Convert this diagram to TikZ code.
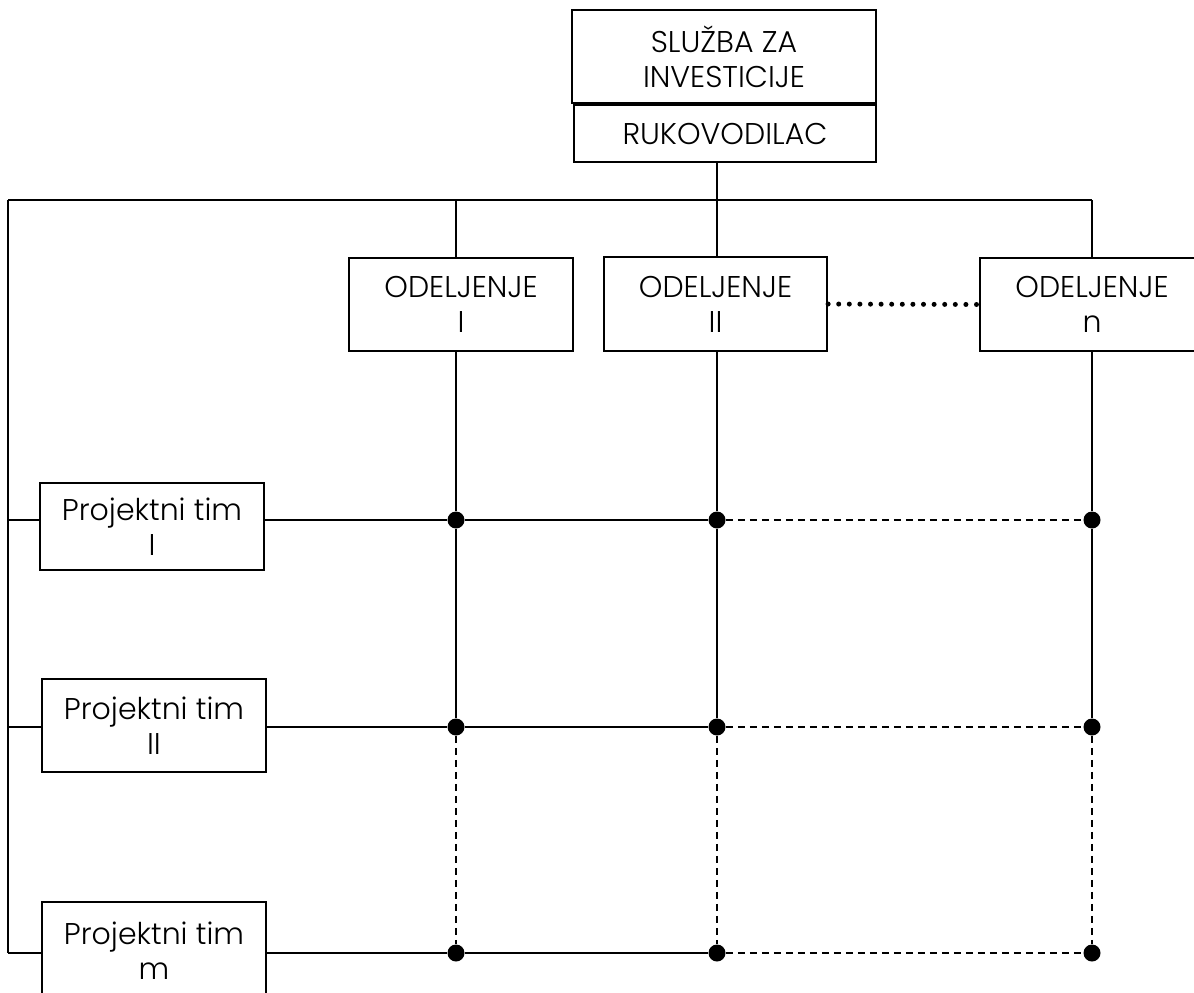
\documentclass[tikz,border=0pt]{standalone}
\usepackage{fontspec}
\setmainfont{Poppins Light}
\begin{document}
\begin{tikzpicture}[x=0.5pt,y=-0.5pt,
 box/.style={draw,line width=1.1pt,align=center,inner sep=0pt,font=\fontsize{15}{17.5}\selectfont},
 ln/.style={line width=1pt},
 dsh/.style={line width=0.8pt,dash pattern=on 3.5pt off 2.5pt},
 dotline/.style={line width=2.5pt,line cap=round,dash pattern=on 0pt off 5.3pt},
 jdot/.style={circle,fill,inner sep=0pt,minimum size=8.5pt}]
\useasboundingbox (0,0) rectangle (1194,992);
\clip (0,0) rectangle (1194,992);
% boxes
\node[box,minimum width=152pt,minimum height=46.5pt] (sl) at (724,56.5) {SLUŽBA ZA\\INVESTICIJE};
\node[box,minimum width=151pt,minimum height=28.5pt] (ruk) at (725,133.5) {RUKOVODILAC};
\node[box,minimum width=112pt,minimum height=46.5pt] (od1) at (461,304.5) {ODELJENJE\\I};
\node[box,minimum width=111.5pt,minimum height=47pt] (od2) at (715.5,304) {ODELJENJE\\II};
\node[box,minimum width=112pt,minimum height=46.5pt] (odn) at (1092,304.5) {ODELJENJE\\n};
\node[box,minimum width=112pt,minimum height=43.5pt] (pt1) at (152,526.5) {Projektni tim\\I};
\node[box,minimum width=112pt,minimum height=46.5pt] (pt2) at (154,725.5) {Projektni tim\\II};
\node[box,minimum width=112pt,minimum height=49pt] (ptm) at (154,951) {Projektni tim\\m};
% bus coordinates
\coordinate (tL) at (8,200);
\coordinate (tR) at (1092,200);
\coordinate (t1) at (456,200);
\coordinate (t2) at (717,200);
\coordinate (bL) at (8,953);
% junctions
\node[jdot] (d11) at (456,520) {};
\node[jdot] (d12) at (717,520) {};
\node[jdot] (d13) at (1092,520) {};
\node[jdot] (d21) at (456,727) {};
\node[jdot] (d22) at (717,727) {};
\node[jdot] (d23) at (1092,727) {};
\node[jdot] (d31) at (456,953) {};
\node[jdot] (d32) at (717,953) {};
\node[jdot] (d33) at (1092,953) {};
% top structure
\draw[ln] (ruk.south -| t2) -- (od2.north -| t2);
\draw[ln] (tL) -- (tR);
\draw[ln] (tL) -- (bL);
\draw[ln] (t1) -- (od1.north -| t1);
\draw[ln] (tR) -- (odn.north -| tR);
\draw[dotline] (od2.east) -- (odn.west);
% left stubs
\draw[ln] (d11 -| tL) -- (d11 -| pt1.west);
\draw[ln] (d21 -| tL) -- (d21 -| pt2.west);
\draw[ln] (bL) -- (d31 -| ptm.west);
% rows
\draw[ln] (d11 -| pt1.east) -- (d11) -- (d12);
\draw[dsh] (d12) -- (d13);
\draw[ln] (d21 -| pt2.east) -- (d21) -- (d22);
\draw[dsh] (d22) -- (d23);
\draw[ln] (d31 -| ptm.east) -- (d31) -- (d32);
\draw[dsh] (d32) -- (d33);
% columns
\draw[ln] (od1.south -| d11) -- (d11) -- (d21);
\draw[dsh] (d21) -- (d31);
\draw[ln] (od2.south -| d12) -- (d12) -- (d22);
\draw[dsh] (d22) -- (d32);
\draw[ln] (odn.south) -- (d13) -- (d23);
\draw[dsh] (d23) -- (d33);
\end{tikzpicture}
\end{document}
